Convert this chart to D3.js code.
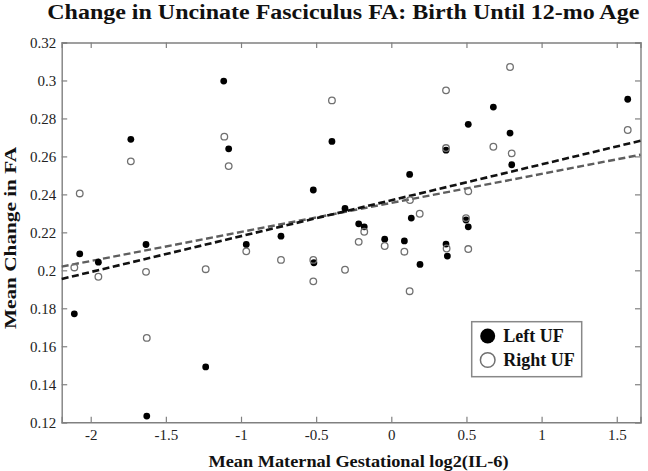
<!DOCTYPE html>
<html><head><meta charset="utf-8">
<script src="https://cdn.jsdelivr.net/npm/d3@7"></script>
<style>body{margin:0;background:#fff}svg{display:block}</style>
</head><body>
<script>
const title = "Change in Uncinate Fasciculus FA: Birth Until 12-mo Age";
const xLabel = "Mean Maternal Gestational log2(IL-6)";
const yLabel = "Mean Change in FA";
const seriesNames = ["Left UF", "Right UF"];
const xTicks = [-2, -1.5, -1, -0.5, 0, 0.5, 1, 1.5];
const yTicks = [0.12, 0.14, 0.16, 0.18, 0.2, 0.22, 0.24, 0.26, 0.28, 0.3, 0.32];
const xDomain = [-2.193, 1.658];
const yDomain = [0.12, 0.32];

const leftX = [-2.109,-2.073,-1.949,-1.733,-1.632,-1.627,-1.235,-1.115,-1.082,-0.965,-0.734,-0.519,-0.515,-0.395,-0.308,-0.217,-0.180,-0.044,0.087,0.122,0.133,0.191,0.364,0.364,0.373,0.497,0.512,0.512,0.679,0.790,0.801,1.573];
const leftY = [0.1771,0.2087,0.2043,0.2690,0.2136,0.1232,0.1491,0.2997,0.2640,0.2136,0.2180,0.2423,0.2040,0.2679,0.2326,0.2245,0.2229,0.2164,0.2155,0.2505,0.2275,0.2031,0.2633,0.2138,0.2075,0.2265,0.2769,0.2229,0.2860,0.2723,0.2556,0.2901];
const rightX = [-2.109,-2.073,-1.949,-1.733,-1.632,-1.627,-1.235,-1.111,-1.082,-0.965,-0.734,-0.519,-0.519,-0.395,-0.308,-0.217,-0.180,-0.044,0.087,0.124,0.122,0.189,0.364,0.364,0.368,0.497,0.512,0.512,0.679,0.790,0.801,1.573];
const rightY = [0.2015,0.2405,0.1966,0.2574,0.1992,0.1644,0.2006,0.2704,0.2549,0.2100,0.2055,0.2055,0.1942,0.2895,0.2003,0.2150,0.2203,0.2128,0.2098,0.2370,0.1890,0.2298,0.2948,0.2644,0.2115,0.2275,0.2416,0.2112,0.2651,0.3071,0.2616,0.2739];
// fitted trend lines: [intercept, slope]
const leftFit = [0.2369, 0.0189];
const rightFit = [0.2355, 0.0153];

const W = 648, H = 471;
const svg = d3.select("body").append("svg").attr("width", W).attr("height", H);
const x = d3.scaleLinear().domain(xDomain).range([61.7, 640.5]);
const y = d3.scaleLinear().domain(yDomain).range([422.2, 42.5]);
const axisColor = "#808080";
const font = "'Liberation Serif','Times New Roman',serif";

// axes box
const gx = svg.append("g").attr("transform", `translate(0,${y.range()[0]})`)
  .call(d3.axisBottom(x).tickValues(xTicks).tickSize(-5.5).tickPadding(9).tickFormat(d3.format("")));
const gxt = svg.append("g").attr("transform", `translate(0,${y.range()[1]})`)
  .call(d3.axisTop(x).tickValues(xTicks).tickSize(-5.5).tickFormat(""));
const gy = svg.append("g").attr("transform", `translate(${x.range()[0]},0)`)
  .call(d3.axisLeft(y).tickValues(yTicks).tickSize(-5.5).tickPadding(5).tickFormat(d3.format("")));
const gyr = svg.append("g").attr("transform", `translate(${x.range()[1]},0)`)
  .call(d3.axisRight(y).tickValues(yTicks).tickSize(-5.5).tickFormat(""));
[gx, gxt, gy, gyr].forEach(g => {
  g.selectAll("path.domain").attr("stroke", axisColor).attr("stroke-width", 1.4);
  g.selectAll(".tick line").attr("stroke", axisColor).attr("stroke-width", 1.2);
  g.selectAll(".tick text").attr("fill", "#222").style("font-family", font).style("font-size", "15px");
});
gx.selectAll(".tick text").attr("dy", "0.62em").text(d => d < 0 ? "-" + Math.abs(d) : d);
gy.selectAll(".tick text").attr("dx", "-0.5px");

// trend lines
const fits = [[leftFit, "#111", 2.6], [rightFit, "#5e5e5e", 2.4]];
fits.slice().reverse().forEach(([f, col, w]) => {
  svg.append("line")
    .attr("x1", x(xDomain[0])).attr("y1", y(f[0] + f[1] * xDomain[0]))
    .attr("x2", x(xDomain[1])).attr("y2", y(f[0] + f[1] * xDomain[1]))
    .attr("stroke", col).attr("stroke-width", w).attr("stroke-dasharray", "7,3.5");
});

// points
const left = leftX.map((v, i) => [v, leftY[i]]);
const right = rightX.map((v, i) => [v, rightY[i]]);
svg.append("g").selectAll("circle").data(left).join("circle")
  .attr("cx", d => x(d[0])).attr("cy", d => y(d[1])).attr("r", 3.4).attr("fill", "#000");
svg.append("g").selectAll("circle").data(right).join("circle")
  .attr("cx", d => x(d[0])).attr("cy", d => y(d[1])).attr("r", 3.3)
  .attr("fill", "none").attr("stroke", "#707070").attr("stroke-width", 1.3);

// title & labels
svg.append("text").attr("x", 47.3).attr("y", 19).attr("textLength", 592).attr("lengthAdjust", "spacingAndGlyphs")
  .style("font-family", font).style("font-weight", "bold").style("font-size", "20px").attr("fill", "#111").text(title);
svg.append("text").attr("x", 208.5).attr("y", 467).attr("textLength", 300).attr("lengthAdjust", "spacingAndGlyphs")
  .style("font-family", font).style("font-weight", "bold").style("font-size", "16px").attr("fill", "#111").text(xLabel);
svg.append("text").attr("transform", "translate(15.5,329) rotate(-90)").attr("textLength", 182).attr("lengthAdjust", "spacingAndGlyphs")
  .style("font-family", font).style("font-weight", "bold").style("font-size", "17px").attr("fill", "#111").text(yLabel);

// legend
const lg = svg.append("g");
lg.append("rect").attr("x", 471.7).attr("y", 321.7).attr("width", 110).attr("height", 55)
  .attr("fill", "#fff").attr("stroke", "#888").attr("stroke-width", 1.5);
seriesNames.forEach((name, i) => {
  const cy = 336 + i * 24;
  if (i === 0) lg.append("circle").attr("cx", 487.7).attr("cy", cy).attr("r", 7.5).attr("fill", "#000");
  else lg.append("circle").attr("cx", 487.7).attr("cy", cy).attr("r", 7.3).attr("fill", "none").attr("stroke", "#707070").attr("stroke-width", 1.5);
  lg.append("text").attr("x", 503.3).attr("y", cy + 6).style("font-family", font).style("font-weight", "bold")
    .style("font-size", "18px").attr("fill", "#111").text(name);
});
</script>
</body></html>
